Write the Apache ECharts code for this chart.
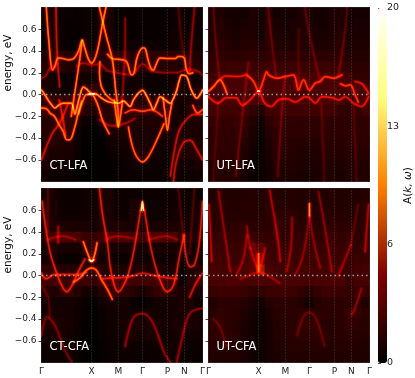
<!DOCTYPE html>
<html><head><meta charset="utf-8">
<style>html,body{margin:0;padding:0;background:#fff}#c{width:415px;height:378px}</style>
<script src="https://cdn.jsdelivr.net/npm/echarts@6/dist/echarts.min.js"></script>
</head><body><div id="c"></div>
<script>
const tickK=[0,31.1,47.7,62.7,78.2,88.8,100];
const tickNames=['Γ','X','M','Γ','P','N','Γ'];
const energyTicks=[-0.6,-0.4,-0.2,0,0.2,0.4,0.6];
const panelNames=['CT-LFA','UT-LFA','CT-CFA','UT-CFA'];
const heatCols=['2.5','7.5','12.5','17.5','22.5','27.5','32.5','37.5','42.5','47.5','52.5','57.5','62.5','67.5','72.5','77.5','82.5','87.5','92.5','97.5'];
const heatRows=['0.75','0.65','0.55','0.45','0.35','0.25','0.15','0.05','-0.05','-0.15','-0.25','-0.35','-0.45','-0.55','-0.65','-0.75'];

const heatCtLfa=[
[.5,1,.5,.5,.3,.5,.5,1,1,.3,.3,.3,.3,.3,.3,.3,.5,.7,.3,.5],
[.5,1,.5,.3,.3,.5,.5,1,1,.3,.3,.3,.3,.3,.3,.3,.5,.7,.5,.5],
[.5,1,.5,.3,.3,.5,.5,1,1,.5,.3,.3,.3,.3,.3,.3,.7,.7,.5,.5],
[.5,1,.5,.3,.5,1,.7,1,1,.5,.5,.5,.7,.5,.5,.5,.7,.7,.7,.7],
[1.2,1.5,1.7,1.5,1.5,1.5,1.2,1.5,1.7,1.7,1.7,1.5,1.7,1.7,1.7,1.7,1.7,1.5,1.2,1.2],
[1.5,1.7,1.5,1.2,1.2,1.5,1.5,1.5,1.5,1.5,1.5,1.5,1.5,1.5,1.5,1.5,1.5,1.2,1.5,1.5],
[1,.7,.3,.5,.5,.8,.8,.5,.5,.5,.7,.7,.7,.5,.5,.5,.7,.3,.5,.7],
[1.2,.7,.5,.5,.7,1.5,2,1,.5,.5,.5,.7,1,.5,.5,.5,1,1,.5,1],
[2,2,2,2,1.5,2,2,1.5,1.5,1.5,1.5,1.5,1.5,1.5,1.5,1.5,1,.8,1,1.5],
[2.2,2,2,2,1.5,1.5,1.2,1.5,1.5,1.5,1.5,2,2,2,2,1.2,1,.7,1.5,2],
[1.5,1.5,2,1.7,1,.5,.4,1.2,1.5,1.5,1.5,1.2,1.2,1.2,1.2,1,.8,1,1,1.2],
[1.5,1.5,1.5,1.5,.6,.3,.1,.4,1,1,1,1,1,1,1,1,1,1,1,1],
[1.2,1.5,1.2,1.2,.5,.2,.1,.2,.7,.8,.8,1,1,1,.8,.8,1,1.5,1.5,1.2],
[1.5,1,1,1,.5,.1,.1,.1,.4,.6,.7,1,1.5,1,.7,.6,1,1.2,1.2,1.5],
[1,.7,.7,.6,.3,.1,.1,.1,.2,.4,.5,.7,.7,.7,.5,.5,.8,.7,.7,1],
[.7,.5,.5,.4,.2,.1,.1,.1,.2,.3,.4,.4,.4,.4,.4,.5,.7,.5,.5,.7]];
const heatUtLfa=[
[1.2,1.2,.8,.8,.8,1.2,.8,1.4,.8,.8,.8,1.2,1.2,.8,.8,1.2,1.2,.8,.8,.8],
[1.2,1.4,1,.8,1,1.2,.8,1.7,1,.8,1,1.2,1.2,.8,.8,1.2,1.2,.8,1,1],
[1.2,1.4,1.2,1,1.2,1.2,.8,1.7,1.2,1,1,1.2,1.2,1,1,1.2,1.4,1,1,1],
[1.4,1.7,1.4,1.2,1.4,1.4,1.2,1.7,1.4,1.2,1.2,1.4,1.4,1.2,1.2,1.4,1.7,1.2,1.2,1.2],
[1.7,1.9,1.7,1.7,1.7,1.9,1.7,1.9,1.7,1.7,1.7,1.7,1.7,1.7,1.7,1.7,1.9,1.4,1.4,1.4],
[2,2.3,2.3,2.3,2.3,2.3,2.3,2.5,2.3,2.3,2.3,2.3,2.3,2.3,2.3,2.3,2.3,1.8,1.7,1.7],
[2.5,2.8,2.8,2.8,2.8,2.8,2.8,2.8,2.8,2.8,2.8,2.8,2.8,2.8,2.8,2.8,2.8,2.5,2,2],
[2.8,2.8,2.8,2.8,2.8,2.8,3.5,2.8,2.8,2.8,2.8,2.8,2.8,2.8,2.8,2.8,2.8,2.8,2.8,2.8],
[2.8,2.8,2.8,2.8,2.8,2.8,3.2,2.8,2.8,2.8,2.8,2.8,2.8,2.8,2.8,2.8,2.8,2,2.5,2.8],
[2.5,2.5,2.5,2.5,2.5,2,1.3,2.5,2.5,2.5,2.5,2.5,2.5,2.5,2.5,2.5,2,1.7,2,2.5],
[2,2,2,2.2,2,1.3,.7,1.7,2.2,2,1.8,1.8,1.8,1.8,2,1.8,1.8,1.7,1.8,1.8],
[1.7,2,1.8,2,1.7,1,.5,1.4,1.8,1.8,1.7,1.7,1.7,1.7,1.8,1.7,1.7,1.7,1.8,1.8],
[1.7,2,1.7,1.8,1.4,.9,.4,1.2,1.7,1.7,1.5,1.4,1.4,1.4,1.7,1.5,1.4,1.7,1.7,1.7],
[1.7,1.8,1.7,1.8,1.2,.7,.4,1,1.6,1.5,1.4,1.3,1.2,1.3,1.6,1.4,1.3,1.5,1.6,1.5],
[1.5,1.7,1.5,1.7,1,.6,.4,.9,1.4,1.3,1.3,1.2,1,1.2,1.4,1.3,1.2,1.4,1.4,1.3],
[1.3,1.5,1.3,1.4,.9,.5,.4,.8,1.3,1.2,1.2,1,.9,1,1.3,1.2,1,1.3,1.3,1.3]];
const heatCtCfa=[
[.7,1,.5,.5,.5,.7,.7,1.2,1,.5,.5,.5,.5,.5,.5,.5,.7,.7,.5,.5],
[1,1,.6,.5,.5,.7,.7,1.2,1,.6,.5,1,1,.5,.5,.5,.7,.7,.6,.8],
[1,1,.7,.6,.6,.7,.8,1.2,1,.7,.6,1,1,.6,.6,.6,.8,.7,.7,1],
[1,1.2,1.2,1.1,1,1,.8,1.2,1.2,1.2,1,1,1,1,1,1.1,1.1,1,.7,1],
[1.5,2.5,2.8,2.8,2.8,2.2,2,2.5,3,3,2.8,2.2,2.2,2.8,3,3,2.8,1.8,1.2,1.2],
[.9,1.2,.9,.9,.9,1.5,2,1.2,.9,.9,.9,.9,.9,.9,.9,.9,.9,.8,.5,.8],
[.8,1,.5,.4,.5,1,2,.8,.6,.5,.5,.8,.8,.5,.5,.5,.7,.5,.7,.8],
[2,1.8,1.5,1.5,1.5,1.5,2,1.5,1.2,1.2,1,1.2,1.5,1.2,1.2,1,1,.4,1.2,1.5],
[2.5,2.5,2.2,2.2,2.2,2.5,2,2.5,2.5,2.5,2.5,2.5,2.5,2.5,2.5,2.5,2,.5,1.5,2.2],
[1.5,1.2,1.8,2,1.5,.8,.8,1.5,2,2,1.8,1.5,.8,1.5,2,2,1.5,1,1.3,1],
[.8,.8,.8,.8,.7,.4,.2,.7,.9,.8,.8,.5,.2,.5,.8,.8,.8,1,1,.6],
[.8,.9,.8,.8,.6,.3,.2,.5,.7,.7,.8,.8,.8,.8,.8,.7,.8,.9,.9,.8],
[1,1.2,1,.9,.6,.3,.1,.4,.7,.8,.9,1,1,1,.9,.8,1,1,1,1],
[.8,1,1,.8,.5,.2,.1,.4,.6,.7,.9,1,.8,1,.9,.7,.8,.9,.7,.7],
[.6,.6,.8,.7,.4,.2,.1,.3,.5,.6,.7,.6,.5,.6,.7,.7,.7,.7,.5,.5],
[.5,.5,.5,.6,.3,.2,.1,.3,.4,.5,.5,.5,.4,.5,.5,.5,.6,.5,.4,.4]];
const heatUtCfa=[
[1.3,1.7,1.3,1.3,1.3,1.5,1.3,1.7,1.5,1.3,1.5,1.3,1.3,1.3,1.3,1.5,1.3,1.3,1.3,1.5],
[1.5,1.7,1.5,1.3,1.5,1.5,1.3,1.7,1.5,1.5,1.5,1.3,1.5,1.3,1.3,1.5,1.3,1.4,1.4,1.7],
[1.5,1.7,1.5,1.5,1.5,1.5,1.5,1.7,1.7,1.7,1.7,1.5,1.5,1.5,1.5,1.6,1.5,1.5,1.5,1.7],
[1.6,1.7,1.7,1.7,1.9,1.7,1.6,1.7,2.2,1.7,1.9,1.6,1.7,1.6,1.6,1.9,1.7,1.7,1.7,1.7],
[1.9,2.2,2,1.9,2.2,2.2,2,2,2.4,2,2,2,2,2,1.9,2.4,1.9,2.2,1.8,1.9],
[2.3,2.3,2.2,2.2,2.4,2.8,3.5,2.2,2.2,2.2,2.3,2.2,2.3,2.2,2.2,2.3,2.2,2.2,1.9,2.2],
[2.5,2.5,2.3,2.3,2.5,3.3,4.5,2.5,2.3,2.3,2.3,2.3,2.5,2.3,2.3,2.3,2.3,2.2,2.3,2.3],
[2.8,2.7,2.7,2.7,2.8,3.5,6,3,2.6,2.5,2.6,2.6,2.6,2.6,2.6,2.7,2.6,2.2,2.6,2.7],
[2.8,2.8,3,3,2.8,2.8,3.2,2.8,2.8,2.8,2.8,2.8,2.7,2.8,2.8,3,2.8,2.2,2.7,2.7],
[2.2,2.4,2.4,2.4,2.2,1.8,1.8,2.2,2.4,2.4,2.4,1.9,1.5,1.9,2.4,2.4,2.2,2,2.2,2.2],
[1.3,1.7,1.7,1.7,1.5,1,.7,1.5,1.7,1.7,1.7,1.3,.8,1.3,1.7,1.7,1.7,1.7,1.7,1.3],
[1.5,1.9,1.7,1.6,1.2,.8,.5,1,1.5,1.6,1.7,1.7,1.7,1.7,1.7,1.6,1.7,2.1,2.1,1.6],
[1.7,2,1.7,1.5,1.1,.7,.5,.9,1.4,1.5,1.6,2,2,2,1.6,1.5,1.7,2,1.8,1.6],
[1.7,1.8,1.8,1.5,1,.7,.5,.9,1.3,1.4,1.7,1.8,1.7,1.8,1.7,1.5,1.6,1.7,1.6,1.5],
[1.5,1.5,1.7,1.4,1,.7,.5,.9,1.2,1.3,1.5,1.5,1.4,1.5,1.5,1.4,1.5,1.5,1.4,1.3],
[1.3,1.3,1.3,1.3,1,.7,.5,.9,1.1,1.2,1.3,1.3,1.3,1.3,1.3,1.3,1.3,1.3,1.3,1.2]];

// each band: intensity, then [k, energy] points
const bandsCtLfa=[
[10,[3,.8],[4.5,.5],[6.8,.225],[8.3,.26],[10.4,.335],[13.5,.33],[16.6,.32],[20,.33],[23,.4],[25.3,.5],[27,.42],[29,.33],[31.1,.29],[33.2,.33],[35.3,.44],[37.5,.62],[40,.8]],
[10,[41,.37],[44,.33],[50,.32],[53,.3],[55,.2],[56,.18],[57.5,.2],[59,.32],[61,.4],[63,.43],[64.5,.42],[66,.33],[68,.24],[69.5,.225],[71,.27],[73.7,.335],[79,.33],[83,.33],[85,.35],[87,.35],[88.8,.33],[90,.23],[92,.19],[94,.2]],
[5.5,[0,.15],[3,.18],[5.2,.24],[8,.25]],
[5.5,[22,.26],[26,.29],[31,.27],[36,.28],[41,.22],[47,.2],[54,.18]],
[5.5,[58,.2],[63,.28],[68,.22],[75,.2],[84,.2],[90,.23],[96,.22],[100,.18]],
[7,[9,.8],[9.4,.5],[10,.3],[11.3,.07]],
[10,[25.3,.5],[23.5,.3],[21.5,.1],[19.5,-.1],[18.5,-.2]],
[10,[36,.8],[40,.55],[44,.32],[46,.05],[47.5,-.15],[47.7,-.29]],
[10,[36.3,.3],[36,.2],[37,.08],[39,.02],[42,-.03],[46,-.07]],
[6,[52,.7],[52,.46],[51,.15],[50,-.05]],
[11,[0,.04],[2,0],[4,-.05],[6,-.09],[8.3,-.125],[10.5,-.1],[13.5,-.08],[18.5,-.08],[20.7,-.18],[22,-.12],[23.5,-.03],[26,.07],[28,.05],[31,.01],[34,.005],[37,-.03],[42,-.07],[47.7,-.08],[50.8,-.06],[55,-.11],[57.1,-.05],[60,.01],[62.7,.04],[65,-.005],[67.5,-.08],[69.5,-.14],[71.6,-.08],[73.7,-.02],[76.8,-.05],[79.9,-.08],[82,-.035],[84,.04],[85.7,.135],[87.1,.18],[90.2,.165],[92.3,.07],[94.4,0],[96.5,-.035],[98.5,0],[100,.04]],
[10,[23,-.18],[25.9,-.05],[28,0],[31.1,0],[33,-.03],[35.3,-.11],[37.5,-.22],[39.5,-.29],[42,-.36]],
[10,[0,-.125],[3,-.13],[5.2,-.17],[8,-.2],[11,-.28],[13.5,-.34],[15.6,-.415],[17.6,-.415],[20.7,-.3],[22.8,-.17],[25,-.06]],
[7,[0,-.6],[3,-.48],[7,-.35],[11,-.27],[14,-.18],[16,-.1],[17,-.08]],
[7,[11,-.05],[13,-.2],[15,-.38]],
[10,[45.2,-.05],[46.5,-.2],[47.7,-.3],[49,-.2],[50.3,-.06]],
[10,[75.5,-.03],[77,-.2],[78.2,-.33],[79.5,-.2],[81,-.08]],
[8.5,[52,-.17],[57,-.14],[62.7,-.155],[68,-.14],[75,-.2]],
[6,[36,-.23],[44,-.29],[53,-.26],[58,-.22]],
[9.5,[54,-.3],[56,-.45],[59,-.57],[62.7,-.62],[66.4,-.57],[71.6,-.42],[76,-.27]],
[7,[100,-.6],[96.5,-.51],[92.3,-.42],[88,-.445],[84,-.6],[82,-.8]],
[9,[100,-.14],[97,-.17],[94,-.1]],
[7,[100,-.185],[95,-.185],[90,-.23],[85.5,-.33],[83,-.48],[80,-.75]],
[6,[95,.8],[93,.45],[92,.2]],
[3.5,[85,.8],[87,.5],[89,.33]],
[19,[29.5,.005],[31.1,.005],[32.7,.005]]];
const bandsUtLfa=[
[9.5,[0,.03],[3,.07],[7.2,.135],[9.3,.09],[11.4,.01]],
[7,[7.2,.135],[10.4,.17],[18.6,.165],[23,.18]],
[8,[23.8,.18],[28,.12],[31.1,.03],[34.2,.135],[36.2,.21],[37.3,.18],[42.4,.15],[47.6,.165],[52.8,.18],[55.9,.04],[59,.135],[62.7,.04],[66.3,.105],[69.4,.12],[72.5,.165],[77.6,.15],[82.8,.18]],
[8,[82,.1],[85,.08],[88,.09],[91,0],[93,-.07]],
[7,[91,.12],[95.2,.1],[99.4,.01]],
[7,[0,-.02],[6,-.08],[11,-.03],[17,-.03],[21,-.1],[25,-.06],[31.1,.02],[35,-.08],[39,-.11],[43.5,-.05],[48.7,-.04],[54,-.07],[60,-.02],[62.7,-.03],[66.3,-.08],[70.4,-.02],[77,-.03],[81,-.05],[85,-.02],[90,-.08],[95,-.11],[99.4,-.02]],
[20,[30.5,.03],[31.1,.035],[31.7,.03]],
[3.5,[3,.8],[5,.4],[7,.14]],
[3.5,[37,.8],[40,.4],[42,.17]],
[3.5,[24.8,.3],[21,-.2],[17,-.75]],
[3.5,[47.6,.17],[46,-.05],[43,-.75]],
[3.5,[80.7,.17],[85,.6],[86,.8]],
[2.5,[56,.6],[56,.04]],
[3.5,[69.4,.12],[62,.6],[60,.8]],
[2.5,[3,-.8],[6,-.07]],
[2.5,[70,-.07],[72,-.8]],
[2.5,[90,-.1],[92,-.8]]];
const bandsCtCfa=[
[4.5,[4,.33],[13,.36],[21,.33]],
[4.5,[40,.33],[47,.36],[57,.34]],
[4.5,[67,.33],[78,.36],[84,.33]],
[7.5,[.5,.68],[2,.5],[5.2,.22],[8.3,.07],[12.5,-.09],[15.6,-.15],[19,-.09],[23,.04],[27,.15]],
[10,[26,.31],[29,.19],[31.1,.13],[33,.19],[34.5,.3]],
[17,[29.7,.145],[31.1,.13],[32.5,.145]],
[9.5,[20,-.06],[24,-.02],[28,.05],[31.1,.07],[34,.05],[37,-.03],[41,-.13],[44,-.22]],
[7.5,[0,.02],[3,-.03],[8,.01],[15,.01],[23,.01],[28,.03]],
[7,[38,-.03],[47,-.02],[55,-.01],[62.7,.02],[70,0],[78,-.02],[84,-.03]],
[16,[62,.6],[62.7,.68],[63.3,.6]],
[7.5,[61.5,.6],[58,.28],[55,.07],[52,-.06],[47.7,-.15],[45,-.08],[42.5,.1],[41,.3],[38,.55],[36,.8]],
[7.5,[64,.6],[68,.25],[73,-.02],[78,-.15],[82,-.09],[86,.2],[88.5,.37]],
[7.5,[88.5,.37],[90,.16],[92.5,.08],[95,.1],[98,.3],[100,.68]],
[7,[92,-.2],[96,-.07],[100,.02]],
[5,[0,-.55],[3.5,-.38],[8,-.45],[15,-.7],[19,-.8]],
[6,[52,-.65],[57,-.39],[62.7,-.35],[69,-.43],[76,-.7],[80,-.8]],
[6,[100,-.3],[92,-.35],[87,-.6],[84,-.8]],
[6,[10.4,.45],[10.4,.3]],
[3.5,[4,.8],[4,.4]],
[3.5,[95,.8],[92,.2]],
[3.5,[85,.8],[88,.37]],
[3.5,[0,-.1],[4,-.2],[5,-.38]]];
const bandsUtCfa=[
[10,[31.1,.2],[31.1,.04]],
[5.5,[26,.25],[29,.12],[31.1,.04],[33,.12],[35.2,.25]],
[5,[23.8,.37],[21.7,.16],[17.6,.01]],
[5,[26,.25],[24.8,.35],[23.8,.45]],
[4.5,[20,-.03],[25,0],[31.1,.03],[37,0],[44,-.07]],
[6,[38,.78],[42.5,.39],[44.6,.13]],
[5,[52,.53],[51.3,.28],[48.7,.04]],
[5,[6.2,.77],[10.8,.31],[13.5,.04]],
[5,[68.3,.77],[72.9,.39],[76.6,.04]],
[5,[88.4,.28],[84,.12],[80.7,0]],
[3,[88.4,.28],[93,.65]],
[11,[62.7,.66],[62.7,.55]],
[4.5,[62.7,.55],[60,.28],[57,.1],[53.8,.01]],
[4.5,[62.9,.55],[65.4,.31],[69.4,.07]],
[6,[.4,.65],[2,.13]],
[6,[99.4,.65],[97.3,.22]],
[5,[95,-.12],[91,-.3],[89,-.36]],
[3.5,[3,-.4],[7,-.47],[11,-.65]],
[3.5,[55,-.55],[59,-.38],[62.7,-.34],[67,-.4],[72,-.65]],
[3,[28,.3],[31,.1]]];

const heats=[heatCtLfa,heatUtLfa,heatCtCfa,heatUtCfa];
const bands=[bandsCtLfa,bandsUtLfa,bandsCtCfa,bandsUtCfa];
const afmArr=v=>{const x=Math.min(1,v/20),c=t=>255*Math.max(0,Math.min(1,t));return [c(2*x),c(2*x-.5),c(2*x-1)];};
const css=a=>`rgb(${a.map(t=>Math.round(Math.max(0,t))).join(',')})`;
const frames=[[41.5,7.5],[208.5,7.5],[41.5,188.5],[208.5,188.5]];
const nameY=[63,null,245,null];
const W=161,H=174;
const labelStyle={color:'#222',fontSize:9,fontFamily:'DejaVu Sans'};
const grid=[],xAxis=[],yAxis=[],series=[],graphic=[];
frames.forEach((f,g)=>{
  const bottom=g>=2,left=g%2===0;
  grid.push({left:f[0],top:f[1],width:W,height:H,show:true,backgroundColor:'#000',borderWidth:0});
  xAxis.push({type:'value',gridIndex:g,min:0,max:100,splitLine:{show:false},
    axisLine:{show:true,lineStyle:{color:'#555',width:1}},
    axisTick:{show:bottom,length:3,customValues:tickK,lineStyle:{color:'#222',width:.8}},
    axisLabel:{show:bottom,customValues:tickK,margin:5,hideOverlap:false,showMinLabel:true,showMaxLabel:true,...labelStyle,formatter:v=>tickNames[tickK.indexOf(v)]}});
  xAxis.push({type:'category',gridIndex:g,position:'top',data:heatCols,boundaryGap:true,
    axisLine:{show:true,lineStyle:{color:'#555',width:1}},axisTick:{show:false},axisLabel:{show:false},splitLine:{show:false}});
  yAxis.push({type:'value',gridIndex:g,min:-.8,max:.8,splitLine:{show:false},
    axisLine:{show:true,lineStyle:{color:'#555',width:1}},
    axisTick:{show:true,length:3,customValues:energyTicks,lineStyle:{color:'#222',width:.8}},
    axisLabel:{show:left,customValues:energyTicks,margin:5,...labelStyle,formatter:v=>v.toFixed(1).replace('-','\u2212')}});
  yAxis.push({type:'category',gridIndex:g,position:'right',inverse:true,data:heatRows,boundaryGap:true,
    axisLine:{show:true,lineStyle:{color:'#555',width:1}},axisTick:{show:false},axisLabel:{show:false},splitLine:{show:false}});
  const data=[];
  heats[g].forEach((row,r)=>row.forEach((v,c)=>data.push([c,r,v])));
  series.push({type:'heatmap',xAxisIndex:2*g+1,yAxisIndex:2*g+1,data,progressive:0,emphasis:{disabled:true},z:1});
  const xi=2*g,yi=2*g;
  bands[g].forEach(b=>{
    const v0=b[0],pts=b.slice(1);
    const v=v0*(.5+.5*Math.min(1,v0/11));
    const T=afmArr(v),outer=afmArr(v*.16),mid=afmArr(v*.24);
    const core=T.map((t,i)=>t-outer[i]-mid[i]);
    const line=(col,w,blur)=>series.push({type:'line',xAxisIndex:xi,yAxisIndex:yi,data:pts,smooth:.35,showSymbol:false,silent:true,z:2,
      blendMode:'lighter',clip:true,lineStyle:{color:css(col),width:w,cap:'round',shadowBlur:blur,shadowColor:css(col)}});
    line(outer,4,1.5);
    line(mid,2.5,0);
    line(core,1.5,0);
  });
  tickK.slice(1,-1).forEach(k=>series.push({type:'line',xAxisIndex:xi,yAxisIndex:yi,data:[[k,-.8],[k,.8]],showSymbol:false,silent:true,z:3,
    lineStyle:{color:'rgba(190,190,190,.55)',width:.6,type:[1,2]}}));
  series.push({type:'line',xAxisIndex:xi,yAxisIndex:yi,data:[[0,0],[100,0]],showSymbol:false,silent:true,z:3,
    lineStyle:{color:'rgba(190,190,190,.8)',width:1.5,type:[1.5,3]}});
  graphic.push({type:'text',left:f[0]+8,top:f[1]+153,z:10,silent:true,style:{text:panelNames[g],fill:'#fff',fontSize:11.5,fontFamily:'DejaVu Sans'}});
  if(left)graphic.push({type:'text',x:8.5,y:nameY[g],rotation:Math.PI/2,z:10,silent:true,style:{text:'energy, eV',fill:'#111',fontSize:10.5,fontFamily:'DejaVu Sans',align:'center',verticalAlign:'middle'}});
});
grid.push({left:378,top:8,width:9,height:355,show:false});
xAxis.push({type:'value',gridIndex:4,show:false,min:0,max:1});
yAxis.push({type:'value',gridIndex:4,position:'right',min:0,max:20,interval:20/3,splitLine:{show:false},
  axisLine:{show:false},axisTick:{show:true,length:3,lineStyle:{color:'#222',width:.8}},
  minorTick:{show:true,splitNumber:4,length:1.5,lineStyle:{color:'#222',width:.8}},
  axisLabel:{margin:5,...labelStyle,fontSize:9.5,formatter:v=>String(Math.floor(v+1e-6))},
  name:'{n|A(}{i|k, \u03c9}{n|)}',nameLocation:'middle',nameGap:17,nameRotate:90,
  nameTextStyle:{rich:{n:{fontSize:10.5,fontFamily:'DejaVu Sans',color:'#111'},i:{fontSize:10.5,fontStyle:'italic',fontFamily:'DejaVu Sans',color:'#111'}}}});
const chart=echarts.init(document.getElementById('c'),null,{renderer:'canvas'});
chart.setOption({animation:false,backgroundColor:'#fff',tooltip:{show:false},grid,xAxis,yAxis,series,graphic,
  visualMap:[{type:'continuous',min:0,max:20,left:378,top:8,itemWidth:9,itemHeight:355,padding:0,calculable:false,text:['',''],
    seriesIndex:series.map((s,i)=>s.type==='heatmap'?i:-1).filter(i=>i>=0),
    inRange:{color:['#000000','#800000','#ff8000','#ffff80','#ffffff']}}]});
</script></body></html>
